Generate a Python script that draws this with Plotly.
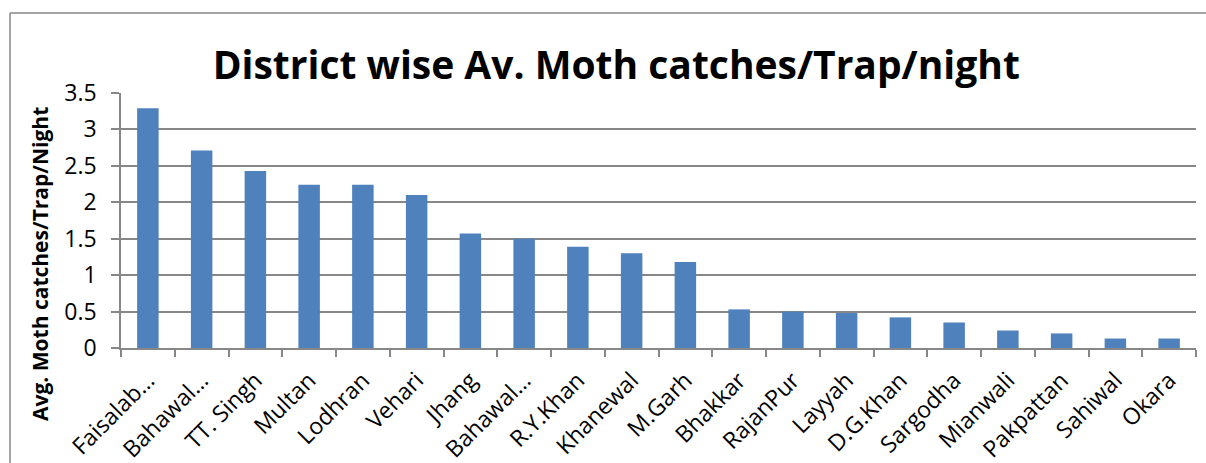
import plotly.graph_objects as go

districts = ["Faisalabad", "Bahawalpur", "TT. Singh", "Multan", "Lodhran", "Vehari", "Jhang",
             "Bahawalnagar", "R.Y.Khan", "Khanewal", "M.Garh", "Bhakkar", "RajanPur", "Layyah",
             "D.G.Khan", "Sargodha", "Mianwali", "Pakpattan", "Sahiwal", "Okara"]
district_labels = ["Faisalab…", "Bahawal…", "TT. Singh", "Multan", "Lodhran", "Vehari", "Jhang",
                   "Bahawal…", "R.Y.Khan", "Khanewal", "M.Garh", "Bhakkar", "RajanPur", "Layyah",
                   "D.G.Khan", "Sargodha", "Mianwali", "Pakpattan", "Sahiwal", "Okara"]
catches = [3.29, 2.71, 2.43, 2.24, 2.24, 2.10, 1.57, 1.50, 1.39, 1.30, 1.18, 0.53, 0.50, 0.48,
           0.42, 0.35, 0.24, 0.20, 0.13, 0.13]
y_ticks = [0, 0.5, 1, 1.5, 2, 2.5, 3, 3.5]
y_tick_text = ["0", "0.5", "1", "1.5", "2", "2.5", "3", "3.5"]

FONT = "Open Sans"
GRAY = "#878787"

fig = go.Figure(go.Bar(x=districts, y=catches, marker=dict(color="#4F81BD", line=dict(width=0))))

fig.update_layout(
    width=1206, height=463,
    margin=dict(l=121, r=10, t=93, b=115),
    paper_bgcolor="white", plot_bgcolor="white",
    bargap=0.6,
    showlegend=False,
    font=dict(family=FONT, color="black"),
    title=dict(text="<b>District wise Av. Moth catches/Trap/night</b>",
               x=0.511, xanchor="center", y=1 - 65 / 463, yanchor="middle",
               font=dict(family=FONT, size=39, color="black")),
)

fig.update_xaxes(
    type="category", tickvals=districts, ticktext=district_labels,
    tickangle=-45, tickfont=dict(size=23, family=FONT),
    ticks="outside", tickson="boundaries", ticklen=7, tickcolor=GRAY, tickwidth=1.5,
    ticklabelstandoff=8,
    showline=True, linecolor=GRAY, linewidth=1.5, showgrid=False, automargin=False,
)
fig.update_yaxes(
    range=[0, 3.5], tickvals=y_ticks, ticktext=y_tick_text, tickfont=dict(size=23, family=FONT),
    ticks="outside", ticklen=8, tickcolor=GRAY, tickwidth=1.5, ticklabelstandoff=10,
    showline=True, linecolor=GRAY, linewidth=1.5, automargin=False,
    showgrid=True, gridcolor=GRAY, gridwidth=1.5, zeroline=False,
)

# axis title positioned as in reference (centered on chart area)
fig.add_annotation(text="<b>Avg. Moth catches/Trap/Night</b>", textangle=-90,
                   xref="paper", yref="paper", x=(40 - 121) / 1075, y=(348 - 264) / 255,
                   xanchor="center", yanchor="middle", showarrow=False,
                   font=dict(family=FONT, size=21, color="black"))

# chart frame (left and top border)
fx = (10 - 121) / 1075
fy = (348 - 13) / 255
fig.add_shape(type="line", xref="paper", yref="paper", x0=fx, x1=fx, y0=-0.6, y1=fy,
              line=dict(color=GRAY, width=1.5))
fig.add_shape(type="line", xref="paper", yref="paper", x0=fx, x1=1.2, y0=fy, y1=fy,
              line=dict(color=GRAY, width=1.5))

fig.write_html("out.html", config={"displayModeBar": False},
               post_script="document.body.style.margin='0';")
